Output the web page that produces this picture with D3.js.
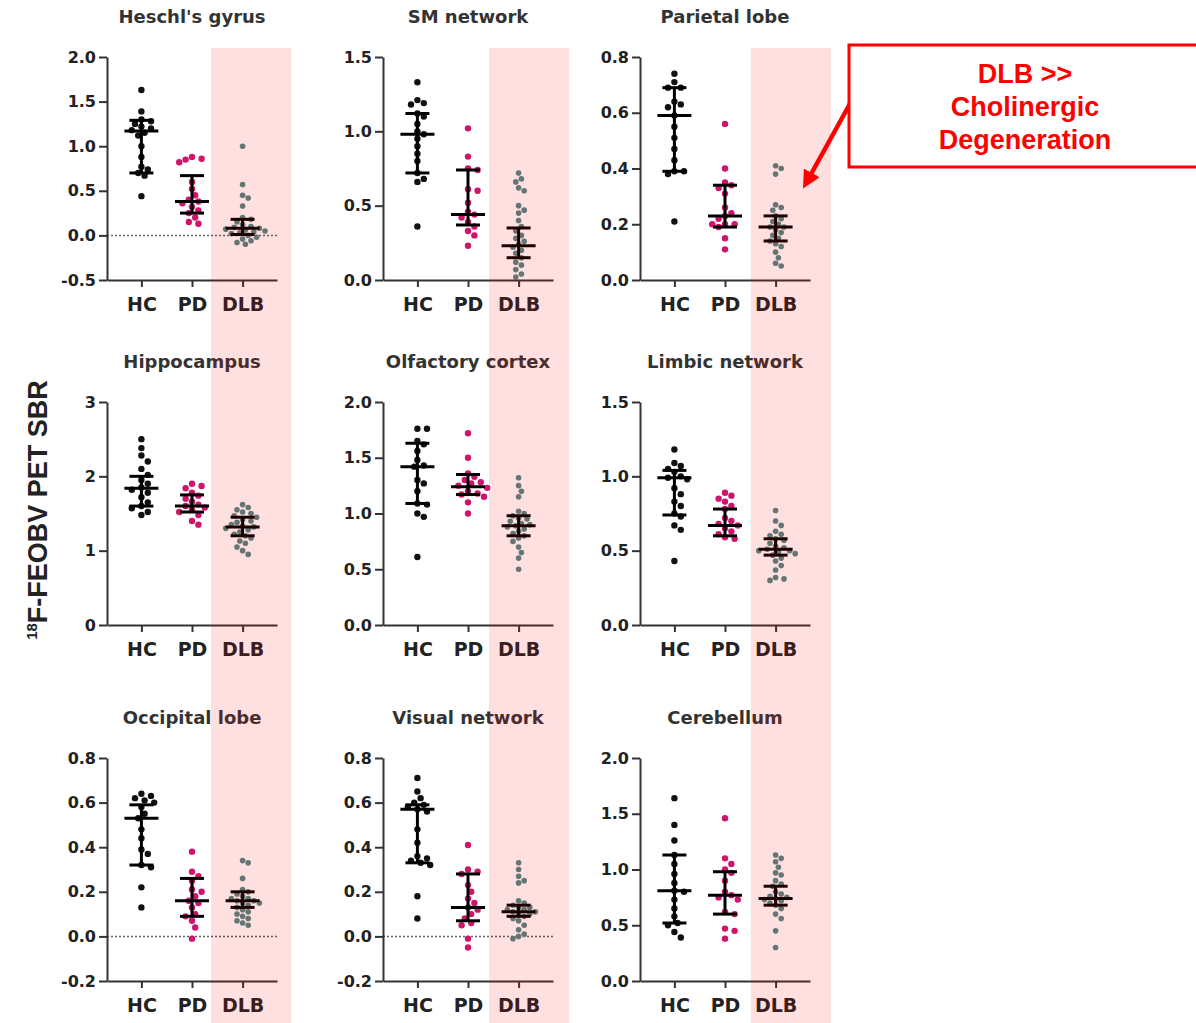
<!DOCTYPE html>
<meta charset="utf-8">
<script src="https://cdn.jsdelivr.net/npm/d3@7"></script>
<style>
body { margin: 0; background: #fff; }
text { font-family: "DejaVu Sans", sans-serif; font-weight: bold; }
.tick text { fill: #222; }
.domain, .tick line { stroke: #333; stroke-width: 2px; }
.note { font-family: "Liberation Sans", Arial, sans-serif; font-size: 27px; fill: #ff0000; }
</style>
<body>
<script>
var categories = ["HC", "PD", "DLB"];

var regions = ["Heschl's gyrus", "SM network", "Parietal lobe",
               "Hippocampus", "Olfactory cortex", "Limbic network",
               "Occipital lobe", "Visual network", "Cerebellum"];

var yDomains = [[-0.5, 2], [0, 1.5], [0, 0.8],
                [0, 3], [0, 2], [0, 1.5],
                [-0.2, 0.8], [-0.2, 0.8], [0, 2]];
var yStep = [0.5, 0.5, 0.2, 1, 0.5, 0.5, 0.2, 0.2, 0.5];
var zeroLine = [true, false, false, false, false, false, true, true, false];

// individual subjects
var hcValues = [
  [1.63, 1.39, 1.30, 1.28, 1.25, 1.22, 1.20, 1.18, 1.15, 1.12, 1.00, 0.88, 0.77, 0.74, 0.70, 0.67, 0.44],
  [1.33, 1.21, 1.19, 1.18, 1.12, 1.10, 1.05, 1.00, 0.98, 0.95, 0.90, 0.85, 0.80, 0.72, 0.68, 0.66, 0.36],
  [0.74, 0.71, 0.69, 0.69, 0.64, 0.63, 0.62, 0.59, 0.55, 0.51, 0.47, 0.43, 0.39, 0.39, 0.38, 0.21],
  [2.50, 2.38, 2.28, 2.20, 2.10, 2.02, 1.95, 1.90, 1.85, 1.82, 1.78, 1.72, 1.65, 1.60, 1.57, 1.52, 1.48],
  [1.76, 1.76, 1.65, 1.62, 1.56, 1.48, 1.43, 1.42, 1.30, 1.27, 1.20, 1.09, 1.08, 1.00, 0.97, 0.61],
  [1.18, 1.09, 1.07, 1.05, 1.03, 1.00, 0.99, 0.98, 0.92, 0.88, 0.83, 0.80, 0.75, 0.73, 0.67, 0.64, 0.43],
  [0.64, 0.63, 0.62, 0.61, 0.60, 0.58, 0.55, 0.53, 0.48, 0.44, 0.39, 0.37, 0.32, 0.31, 0.22, 0.13],
  [0.71, 0.65, 0.62, 0.60, 0.59, 0.58, 0.57, 0.56, 0.48, 0.42, 0.36, 0.35, 0.34, 0.33, 0.32, 0.18, 0.08],
  [1.64, 1.40, 1.26, 1.13, 1.05, 0.96, 0.88, 0.81, 0.80, 0.73, 0.65, 0.58, 0.52, 0.50, 0.44, 0.39]
];
var pdValues = [
  [0.88, 0.86, 0.85, 0.82, 0.60, 0.52, 0.45, 0.40, 0.38, 0.36, 0.32, 0.28, 0.25, 0.20, 0.15, 0.13],
  [1.02, 0.83, 0.75, 0.74, 0.61, 0.60, 0.52, 0.46, 0.44, 0.42, 0.39, 0.36, 0.33, 0.30, 0.23],
  [0.56, 0.40, 0.35, 0.34, 0.33, 0.31, 0.26, 0.24, 0.23, 0.22, 0.20, 0.20, 0.20, 0.19, 0.15, 0.11],
  [1.90, 1.87, 1.84, 1.78, 1.74, 1.70, 1.66, 1.62, 1.60, 1.58, 1.55, 1.52, 1.48, 1.40, 1.35],
  [1.72, 1.50, 1.36, 1.33, 1.30, 1.28, 1.27, 1.25, 1.23, 1.20, 1.18, 1.17, 1.15, 1.10, 1.00],
  [0.89, 0.87, 0.85, 0.83, 0.80, 0.78, 0.72, 0.70, 0.68, 0.67, 0.65, 0.63, 0.61, 0.59, 0.58],
  [0.38, 0.29, 0.27, 0.25, 0.21, 0.20, 0.18, 0.16, 0.15, 0.13, 0.10, 0.09, 0.07, 0.04, -0.01],
  [0.41, 0.30, 0.29, 0.28, 0.23, 0.20, 0.17, 0.15, 0.13, 0.12, 0.10, 0.08, 0.06, 0.05, -0.01, -0.05],
  [1.46, 1.10, 1.05, 1.00, 0.97, 0.90, 0.80, 0.77, 0.75, 0.73, 0.62, 0.60, 0.47, 0.45, 0.38]
];
var dlbValues = [
  [1.00, 0.57, 0.45, 0.42, 0.33, 0.20, 0.18, 0.15, 0.12, 0.10, 0.09, 0.08, 0.07, 0.06, 0.05, 0.04, 0.03, 0.02, 0.00, -0.02, -0.04, -0.06, -0.08, -0.10],
  [0.72, 0.68, 0.66, 0.62, 0.60, 0.50, 0.47, 0.45, 0.40, 0.36, 0.33, 0.30, 0.28, 0.26, 0.24, 0.22, 0.20, 0.18, 0.15, 0.12, 0.10, 0.07, 0.04, 0.02],
  [0.41, 0.40, 0.38, 0.27, 0.26, 0.25, 0.23, 0.22, 0.21, 0.20, 0.19, 0.19, 0.18, 0.17, 0.16, 0.15, 0.14, 0.13, 0.12, 0.10, 0.08, 0.06, 0.05],
  [1.62, 1.58, 1.55, 1.52, 1.50, 1.47, 1.45, 1.42, 1.40, 1.38, 1.35, 1.33, 1.32, 1.30, 1.28, 1.25, 1.22, 1.20, 1.17, 1.13, 1.10, 1.05, 1.00, 0.95],
  [1.32, 1.25, 1.20, 1.15, 1.02, 1.00, 0.98, 0.96, 0.95, 0.93, 0.91, 0.90, 0.89, 0.88, 0.86, 0.84, 0.82, 0.80, 0.78, 0.75, 0.70, 0.65, 0.60, 0.50],
  [0.77, 0.70, 0.67, 0.63, 0.61, 0.60, 0.58, 0.57, 0.55, 0.53, 0.52, 0.51, 0.50, 0.50, 0.49, 0.48, 0.47, 0.45, 0.43, 0.40, 0.37, 0.32, 0.31, 0.30],
  [0.34, 0.33, 0.26, 0.21, 0.20, 0.19, 0.18, 0.17, 0.17, 0.16, 0.16, 0.15, 0.15, 0.14, 0.13, 0.12, 0.11, 0.10, 0.09, 0.08, 0.07, 0.06, 0.05],
  [0.33, 0.30, 0.27, 0.25, 0.24, 0.16, 0.15, 0.14, 0.13, 0.13, 0.12, 0.12, 0.11, 0.11, 0.10, 0.10, 0.09, 0.08, 0.07, 0.05, 0.03, 0.01, 0.00, -0.01],
  [1.13, 1.10, 1.07, 1.02, 0.97, 0.95, 0.90, 0.87, 0.85, 0.80, 0.78, 0.76, 0.75, 0.74, 0.73, 0.72, 0.70, 0.68, 0.65, 0.60, 0.56, 0.45, 0.30]
];

// [median, lower, upper] of each group's bar
var hcStats  = [[1.17, 0.70, 1.29], [0.98, 0.72, 1.12], [0.59, 0.39, 0.69], [1.84, 1.60, 2.00], [1.42, 1.09, 1.63], [0.99, 0.74, 1.04], [0.53, 0.32, 0.59], [0.57, 0.33, 0.59], [0.81, 0.52, 1.13]];
var pdStats  = [[0.38, 0.25, 0.67], [0.44, 0.37, 0.74], [0.23, 0.19, 0.34], [1.60, 1.52, 1.75], [1.24, 1.17, 1.35], [0.67, 0.60, 0.78], [0.16, 0.09, 0.26], [0.13, 0.07, 0.28], [0.77, 0.60, 0.98]];
var dlbStats = [[0.08, 0.01, 0.18], [0.23, 0.15, 0.35], [0.19, 0.14, 0.23], [1.32, 1.20, 1.45], [0.89, 0.80, 0.98], [0.51, 0.47, 0.58], [0.16, 0.13, 0.20], [0.11, 0.09, 0.14], [0.74, 0.68, 0.85]];

var groupColor = ["#111111", "#d0146c", "#4f8684"];
var groupR = [3.2, 3.2, 2.8];

var width = 1196, height = 1023;
var colX = [107, 383, 640],
    rowY = [57, 402, 758],
    bandX = [211, 489, 751],
    plotW = 170,
    plotH = 223;

var svg = d3.select("body").append("svg")
    .attr("width", width)
    .attr("height", height);

var x = d3.scalePoint().domain(categories).range([0, plotW]).padding(0.68);

// simple beeswarm: spread equal-ish values sideways
function swarm(vals, y, r) {
  var placed = [];
  vals.slice().sort(function(a, b) { return b - a; }).forEach(function(v) {
    var py = y(v), dx = 0;
    for (var k = 0; k < 60; k++) {
      var off = k == 0 ? 0 : (k % 2 ? 1 : -1) * Math.ceil(k / 2) * r;
      var ok = placed.every(function(p) { return Math.hypot(p.x - off, p.y - py) >= 2 * r + 0.4; });
      if (ok) { dx = off; break; }
    }
    placed.push({x: dx, y: py});
  });
  return placed;
}

regions.forEach(function(name, i) {
  var col = i % 3, row = Math.floor(i / 3);
  var g = svg.append("g")
      .attr("transform", "translate(" + colX[col] + "," + rowY[row] + ")");

  var dom = yDomains[i];
  var y = d3.scaleLinear().domain(dom).range([plotH, 0]);
  var ticks = d3.range(dom[0], dom[1] + 1e-9, yStep[i]);
  var f1 = yStep[i] >= 1 ? d3.format("d") : d3.format(".1f");
  var fmt = function(v) { return f1(v).replace("\u2212", "-"); };

  g.append("text")
      .attr("x", plotW / 2)
      .attr("y", -34)
      .attr("text-anchor", "middle")
      .style("font-size", "18px")
      .style("fill", "#333")
      .text(name);

  if (zeroLine[i]) {
    g.append("line")
        .attr("x1", 0).attr("x2", plotW)
        .attr("y1", y(0)).attr("y2", y(0))
        .style("stroke", "#666")
        .style("stroke-width", 1.5)
        .style("stroke-dasharray", "2,2");
  }

  var groups = [hcValues[i], pdValues[i], dlbValues[i]];
  var stats = [hcStats[i], pdStats[i], dlbStats[i]];

  groups.forEach(function(vals, j) {
    var cx = x(categories[j]);
    var pts = swarm(vals, y, groupR[j]);
    g.append("g").selectAll("circle")
        .data(pts)
      .enter().append("circle")
        .attr("cx", function(d) { return cx + d.x; })
        .attr("cy", function(d) { return d.y; })
        .attr("r", groupR[j])
        .style("fill", groupColor[j]);

    var s = stats[j];
    var bar = g.append("g").style("stroke", "#000").style("stroke-width", 3);
    bar.append("line").attr("x1", cx).attr("x2", cx).attr("y1", y(s[1])).attr("y2", y(s[2]));
    bar.append("line").attr("x1", cx - 17).attr("x2", cx + 17).attr("y1", y(s[0])).attr("y2", y(s[0]));
    bar.append("line").attr("x1", cx - 12).attr("x2", cx + 12).attr("y1", y(s[1])).attr("y2", y(s[1]));
    bar.append("line").attr("x1", cx - 12).attr("x2", cx + 12).attr("y1", y(s[2])).attr("y2", y(s[2]));
  });

  g.append("g")
      .call(d3.axisLeft(y).tickValues(ticks).tickFormat(fmt).tickSize(8).tickSizeOuter(0).tickPadding(3))
      .call(function(a) { a.selectAll("text").style("font-size", "16px"); });

  g.append("g")
      .attr("transform", "translate(0," + plotH + ")")
      .call(d3.axisBottom(x).tickSize(7).tickSizeOuter(0).tickPadding(11))
      .call(function(a) { a.selectAll("text").style("font-size", "19px"); });
});

// y axis title
svg.append("text")
    .attr("transform", "translate(47,510) rotate(-90)")
    .attr("text-anchor", "middle")
    .style("font-family", "'Liberation Sans', Arial, sans-serif")
    .style("font-size", "27px")
    .style("fill", "#222")
    .call(function(t) {
      t.append("tspan").style("font-size", "15px").attr("dy", "-10").text("18");
      t.append("tspan").attr("dy", "10").text("F-FEOBV PET SBR");
    });

// pink DLB columns, laid over everything like a transparency
svg.append("g").selectAll("rect")
    .data(bandX)
  .enter().append("rect")
    .attr("x", function(d) { return d; })
    .attr("y", 48)
    .attr("width", 80)
    .attr("height", height - 48)
    .style("fill", "#ff0000")
    .style("opacity", 0.12);

// annotation
svg.append("defs").append("marker")
    .attr("id", "head")
    .attr("viewBox", "0 0 10 10")
    .attr("refX", 2).attr("refY", 5)
    .attr("markerWidth", 4).attr("markerHeight", 4)
    .attr("orient", "auto")
  .append("path")
    .attr("d", "M0,0L10,5L0,10z")
    .style("fill", "#ff0000");

svg.append("line")
    .attr("x1", 852).attr("y1", 100)
    .attr("x2", 810).attr("y2", 176)
    .style("stroke", "#ff0000")
    .style("stroke-width", 4.5)
    .attr("marker-end", "url(#head)");

svg.append("rect")
    .attr("x", 849).attr("y", 45)
    .attr("width", 400).attr("height", 122)
    .style("fill", "#fff")
    .style("stroke", "#ff0000")
    .style("stroke-width", 3);

var noteLines = ["DLB >>", "Cholinergic", "Degeneration"];
svg.append("g").selectAll("text")
    .data(noteLines)
  .enter().append("text")
    .attr("class", "note")
    .attr("x", 1025)
    .attr("y", function(d, k) { return 83 + k * 33; })
    .attr("text-anchor", "middle")
    .text(function(d) { return d; });
</script>
</body>
</html>
